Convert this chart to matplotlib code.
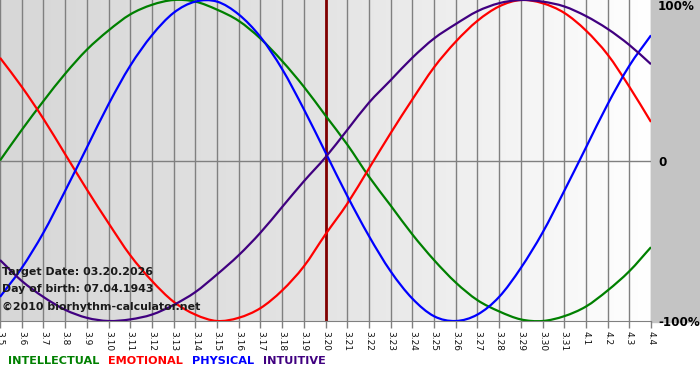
import matplotlib.pyplot as plt
import numpy as np
from matplotlib.colors import LinearSegmentedColormap
from matplotlib.patches import Rectangle, PathPatch
from matplotlib.path import Path

# Days shown on the x axis (month.day)
dates = ['3.5', '3.6', '3.7', '3.8', '3.9', '3.10', '3.11', '3.12', '3.13', '3.14',
         '3.15', '3.16', '3.17', '3.18', '3.19', '3.20', '3.21', '3.22', '3.23', '3.24',
         '3.25', '3.26', '3.27', '3.28', '3.29', '3.30', '3.31', '4.1', '4.2', '4.3', '4.4']
target_day = '3.20'

# Values in percent, one per day
intellectual = [0, 19, 37, 54, 69, 81, 91, 97, 100, 99, 94, 87, 76, 62, 46, 28,
                10, -10, -28, -46, -62, -76, -87, -94, -99, -100, -97, -91, -81, -69, -54]
emotional = [64, 46, 26, 4, -18, -39, -59, -75, -88, -96, -100, -98, -92, -81, -66, -46,
             -27, -5, 17, 38, 58, 74, 87, 96, 100, 98, 92, 81, 66, 46, 24]
physical = [-85, -67, -45, -19, 8, 35, 59, 78, 92, 99, 99, 91, 77, 57, 32, 5,
            -22, -47, -69, -86, -97, -100, -96, -85, -67, -45, -19, 8, 35, 59, 78]
intuitive = [-62, -75, -85, -93, -98, -100, -99, -96, -90, -82, -71, -59, -45, -29, -13, 2,
             19, 36, 50, 64, 76, 85, 93, 98, 100, 99, 96, 90, 82, 72, 60]

series = [('INTELLECTUAL', intellectual, '#008000'),
          ('EMOTIONAL', emotional, '#ff0000'),
          ('PHYSICAL', physical, '#0000ff'),
          ('INTUITIVE', intuitive, '#400080')]


def smooth_path(xs, ys):
    # smooth line through the points (cardinal spline drawn as cubic beziers)
    xs = np.asarray(xs, float)
    ys = np.asarray(ys, float)
    pts = np.column_stack([xs, ys])
    ext = np.vstack([2 * pts[0] - pts[1], pts, 2 * pts[-1] - pts[-2]])
    verts = [pts[0]]
    codes = [Path.MOVETO]
    for i in range(len(pts) - 1):
        p0, p1, p2, p3 = ext[i], ext[i + 1], ext[i + 2], ext[i + 3]
        verts += [p1 + (p2 - p0) / 6, p2 - (p3 - p1) / 6, p2]
        codes += [Path.CURVE4] * 3
    return Path(verts, codes)


W, H = 700, 380
fig = plt.figure(figsize=(W / 100, H / 100), dpi=100)

# background in pixel coordinates
bg = fig.add_axes([0, 0, 1, 1], zorder=-5)
bg.set_axis_off()
bg.set_xlim(0, W)
bg.set_ylim(H, 0)
bg.add_patch(Rectangle((0, 0), W, H, color='white'))
bg.add_patch(Rectangle((651, 0), 49, 322, color='#c4c4c4'))
strip = LinearSegmentedColormap.from_list('strip', ['#ffffff', '#c2c2c2'])
bg.imshow(np.linspace(0, 1, 256)[None, :], cmap=strip, aspect='auto',
          extent=(0, W, 368, 321), interpolation='bilinear')

ax = fig.add_axes([0, 1 - 321 / H, 651 / W, 321 / H])
x = np.arange(len(dates))
ax.set_xlim(0, len(dates) - 1)
ax.set_ylim(-100, 100)

plot_bg = LinearSegmentedColormap.from_list('plotbg', ['#d7d7d7', '#e4e4e4', '#ffffff'])
ax.imshow(np.linspace(0, 1, 256)[None, :], cmap=plot_bg, aspect='auto',
          extent=(0, len(dates) - 1, -100, 100), interpolation='bilinear', zorder=0)

for xi in x:
    ax.axvline(xi, color='#808080', lw=1, zorder=1)
ax.axhline(0, color='#808080', lw=1, zorder=1)
ax.axvline(dates.index(target_day), color='#800000', lw=2, zorder=2)

for name, vals, col in series:
    ax.add_patch(PathPatch(smooth_path(x, vals), fill=False, edgecolor=col,
                           lw=1.6, zorder=3))

ax.set_xticks(x)
ax.set_xticklabels(dates, rotation=270, fontsize=6.5, color='#111111')
ax.tick_params(axis='x', direction='out', length=5, width=1, color='#808080', pad=2)
ax.set_yticks([])
for side in ['top', 'left', 'right']:
    ax.spines[side].set_visible(False)
ax.spines['bottom'].set_color('#808080')

info = ['Target Date: 03.20.2026', 'Day of birth: 07.04.1943', '\u00a92010 biorhythm-calculator.net']
for i, t in enumerate(info):
    fig.text(2 / W, 1 - (272 + 17.5 * i) / H, t, fontsize=7.9, fontweight='bold',
             color='#1a1a1a', va='center', ha='left', zorder=10)

for lbl, ypx, xpx in [('100%', 7, 658), ('0', 162, 658), ('-100%', 322, 658)]:
    fig.text(xpx / W, 1 - ypx / H, lbl, fontsize=8.6, fontweight='bold', va='center', ha='left')

xpos = 8
for name, vals, col in series:
    t = fig.text(xpos / W, 1 - 361 / H, name, fontsize=8.1, fontweight='bold',
                 color=col, va='center', ha='left')
    fig.canvas.draw()
    bb = t.get_window_extent()
    xpos = bb.x1 + 9

fig.savefig('out.png', dpi=100)
